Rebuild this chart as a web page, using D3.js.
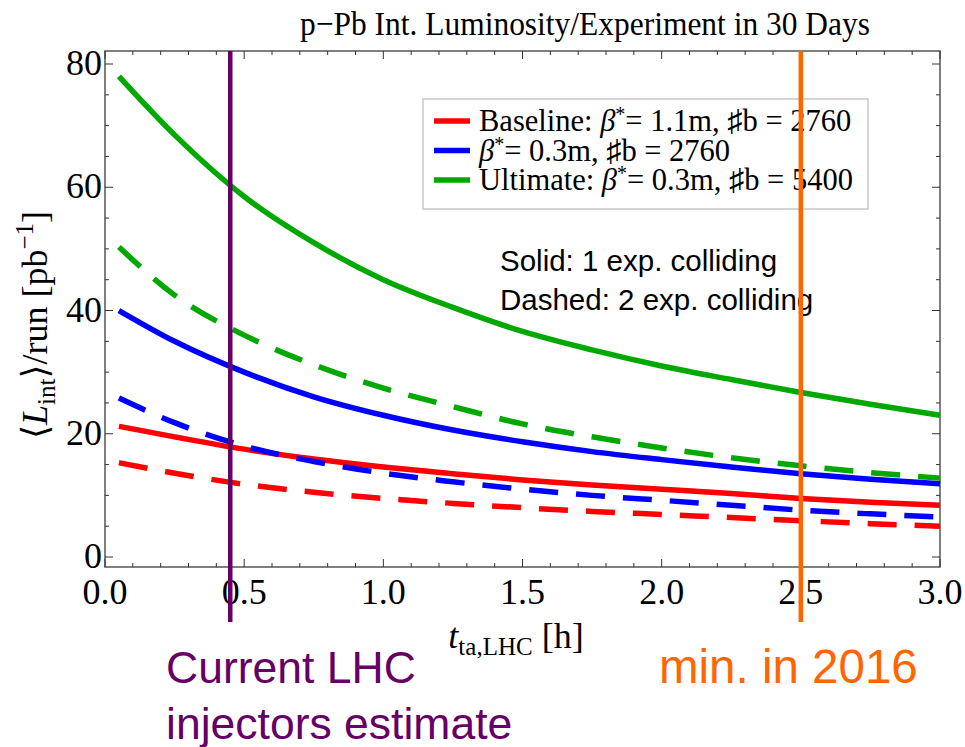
<!DOCTYPE html>
<html lang="en">
<head>
    <meta charset="UTF-8">
    <title>p-Pb Int. Luminosity</title>
    <script src="https://d3js.org/d3.v7.min.js"></script>
    <style>
        body { margin: 0; background: #fff; }
        svg { display: block; }
        .serif { font-family: "Liberation Serif", "DejaVu Serif", serif; }
        .sans { font-family: "Liberation Sans", Arial, sans-serif; }
    </style>
</head>
<body>
    <svg id="chart" width="965" height="747"></svg>

    <script>
        // turnaround time [h]
        const tValues = [0.05, 0.25, 0.5, 0.75, 1.0, 1.25, 1.5, 1.75, 2.0, 2.25, 2.5, 2.75, 3.0];

        // <L_int>/run [pb^-1]
        const baselineSolid = [21.2, 19.5, 17.5, 15.9, 14.6, 13.5, 12.5, 11.7, 11.0, 10.3, 9.5, 8.9, 8.4];
        const baselineDashed = [15.3, 13.6, 11.8, 10.5, 9.5, 8.7, 8.0, 7.4, 6.9, 6.4, 5.9, 5.4, 5.0];
        const beta03Solid = [40.0, 35.0, 30.0, 26.0, 23.0, 20.6, 18.7, 17.1, 15.8, 14.6, 13.5, 12.6, 11.9];
        const beta03Dashed = [25.8, 21.8, 18.0, 15.5, 13.6, 12.2, 11.0, 10.0, 9.2, 8.4, 7.6, 7.0, 6.5];
        const ultimateSolid = [78.0, 68.5, 58.5, 51.0, 45.0, 40.5, 36.6, 33.6, 31.0, 28.8, 26.7, 24.8, 23.0];
        const ultimateDashed = [50.3, 42.5, 36.0, 31.2, 27.4, 24.4, 21.6, 19.5, 17.7, 16.1, 14.8, 13.7, 12.8];

        const seriesColors = ["#ff0000", "#0000ff", "#00a800"];
        const legendLabels = [
            ["Baseline: ", "1.1m", "2760"],
            ["", "0.3m", "2760"],
            ["Ultimate: ", "0.3m", "5400"]
        ];

        const xTicks = [0, 0.5, 1.0, 1.5, 2.0, 2.5, 3.0];
        const yTicks = [0, 20, 40, 60, 80];
        const markers = [
            { t: 0.45, color: "#660066", lines: ["Current LHC", "injectors estimate"], x: 166, size: 44.5 },
            { t: 2.5, color: "#ff6600", lines: ["min. in 2016"], x: 659, size: 47.5 }
        ];

        const svg = d3.select("#chart");
        const plotLeft = 105, plotRight = 940, plotTop = 51, plotBottom = 567;

        const x = d3.scaleLinear().domain([0, 3]).range([plotLeft, plotRight]);
        const y = d3.scaleLinear().domain([0, 80]).range([557, 64]);

        // title
        svg.append("text")
            .attr("class", "serif")
            .attr("x", 300).attr("y", 35)
            .attr("font-size", 34)
            .attr("textLength", 570)
            .attr("lengthAdjust", "spacingAndGlyphs")
            .text("p\u2212Pb Int. Luminosity/Experiment in 30 Days");

        // frame
        svg.append("rect")
            .attr("x", plotLeft).attr("y", plotTop)
            .attr("width", plotRight - plotLeft).attr("height", plotBottom - plotTop)
            .attr("fill", "none")
            .attr("stroke", "#555")
            .attr("stroke-width", 1.5);

        // ticks, inside, on all four sides
        const xMinor = d3.range(0, 3.001, 0.1);
        const yMinor = d3.range(0, 82, 5);
        const tickG = svg.append("g").attr("stroke", "#333").attr("stroke-width", 1);
        xMinor.forEach(v => {
            const major = Math.abs(v * 2 - Math.round(v * 2)) < 1e-6;
            const len = major ? 8 : 4;
            tickG.append("line").attr("x1", x(v)).attr("x2", x(v)).attr("y1", plotBottom).attr("y2", plotBottom - len);
            tickG.append("line").attr("x1", x(v)).attr("x2", x(v)).attr("y1", plotTop).attr("y2", plotTop + len);
        });
        yMinor.forEach(v => {
            const len = v % 20 === 0 ? 8 : 4;
            tickG.append("line").attr("x1", plotLeft).attr("x2", plotLeft + len).attr("y1", y(v)).attr("y2", y(v));
            tickG.append("line").attr("x1", plotRight).attr("x2", plotRight - len).attr("y1", y(v)).attr("y2", y(v));
        });

        svg.selectAll(".xlab")
            .data(xTicks)
            .enter().append("text")
            .attr("class", "serif")
            .attr("x", d => x(d))
            .attr("y", 604)
            .attr("text-anchor", "middle")
            .attr("font-size", 36)
            .text(d => d.toFixed(1));

        svg.selectAll(".ylab")
            .data(yTicks)
            .enter().append("text")
            .attr("class", "serif")
            .attr("x", 102)
            .attr("y", d => y(d) + 11)
            .attr("text-anchor", "end")
            .attr("font-size", 36)
            .text(d => d);

        // axis titles
        const xt = svg.append("text")
            .attr("class", "serif")
            .attr("x", 516).attr("y", 648)
            .attr("text-anchor", "middle")
            .attr("font-size", 36);
        xt.append("tspan").attr("font-style", "italic").text("t");
        xt.append("tspan").attr("font-size", 25).attr("dy", 7).text("ta,LHC");
        xt.append("tspan").attr("dy", -7).text(" [h]");

        const yt = svg.append("text")
            .attr("class", "serif")
            .attr("transform", "translate(47,325) rotate(-90)")
            .attr("text-anchor", "middle")
            .attr("font-size", 36);
        yt.append("tspan").text("\u27E8");
        yt.append("tspan").attr("font-style", "italic").text("L");
        yt.append("tspan").attr("font-size", 25).attr("dy", 8).text("int");
        yt.append("tspan").attr("dy", -8).text("\u27E9/run [pb");
        yt.append("tspan").attr("font-size", 25).attr("dy", -14).text("\u22121");
        yt.append("tspan").attr("dy", 14).text("]");

        // curves
        const series = [
            { values: baselineSolid, color: seriesColors[0], dashed: false },
            { values: baselineDashed, color: seriesColors[0], dashed: true },
            { values: beta03Solid, color: seriesColors[1], dashed: false },
            { values: beta03Dashed, color: seriesColors[1], dashed: true },
            { values: ultimateSolid, color: seriesColors[2], dashed: false },
            { values: ultimateDashed, color: seriesColors[2], dashed: true }
        ];

        const line = d3.line()
            .x(d => x(d[0]))
            .y(d => y(d[1]))
            .curve(d3.curveMonotoneX);

        svg.selectAll(".curve")
            .data(series)
            .enter().append("path")
            .attr("d", s => line(tValues.map((t, i) => [t, s.values[i]])))
            .attr("fill", "none")
            .attr("stroke", s => s.color)
            .attr("stroke-width", 5.5)
            .attr("stroke-dasharray", s => s.dashed ? "29,18" : null);

        // legend
        const legend = svg.append("g");
        legend.append("rect")
            .attr("x", 423).attr("y", 99)
            .attr("width", 445).attr("height", 110)
            .attr("fill", "#fff")
            .attr("stroke", "#c8c8c8")
            .attr("stroke-width", 1.5);
        legendLabels.forEach((lab, i) => {
            const ly = 121 + i * 29.5;
            legend.append("line")
                .attr("x1", 434).attr("x2", 470)
                .attr("y1", ly).attr("y2", ly)
                .attr("stroke", seriesColors[i])
                .attr("stroke-width", 5.5);
            const tx = legend.append("text")
                .attr("class", "serif")
                .attr("x", 479).attr("y", ly + 10)
                .attr("font-size", 30.5);
            tx.append("tspan").text(lab[0]);
            tx.append("tspan").attr("font-style", "italic").text("\u03B2");
            tx.append("tspan").attr("font-size", 20).attr("dy", -10).text("*");
            tx.append("tspan").attr("dy", 10).text("= " + lab[1] + ", \u266Fb = " + lab[2]);
        });

        svg.append("text")
            .attr("class", "sans")
            .attr("x", 500).attr("y", 271)
            .attr("font-size", 29.5)
            .text("Solid: 1 exp. colliding");
        svg.append("text")
            .attr("class", "sans")
            .attr("x", 500).attr("y", 310)
            .attr("font-size", 29.5)
            .text("Dashed: 2 exp. colliding");

        // vertical marker lines + notes
        markers.forEach(m => {
            svg.append("line")
                .attr("x1", x(m.t)).attr("x2", x(m.t))
                .attr("y1", plotTop).attr("y2", 622)
                .attr("stroke", m.color)
                .attr("stroke-width", 4.5);
            m.lines.forEach((txt, i) => {
                svg.append("text")
                    .attr("class", "sans")
                    .attr("x", m.x).attr("y", 683 + i * 56)
                    .attr("font-size", m.size)
                    .attr("fill", m.color)
                    .text(txt);
            });
        });
    </script>
</body>
</html>
